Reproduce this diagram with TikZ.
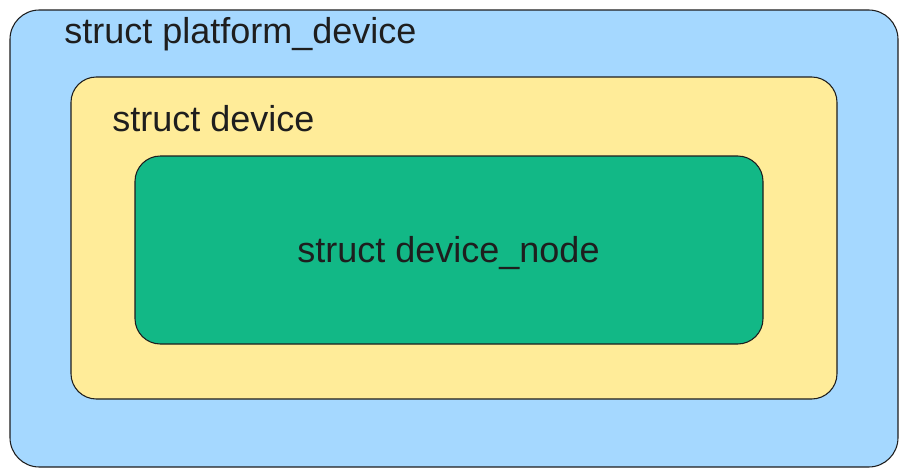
\documentclass[tikz,border=0pt]{standalone}
\usepackage{fontspec}
\setmainfont{Liberation Sans}
\definecolor{boxblue}{HTML}{A5D8FF}
\definecolor{boxyellow}{HTML}{FFEC99}
\definecolor{boxgreen}{HTML}{12B886}
\definecolor{ink}{HTML}{1E1E1E}
\begin{document}
\begin{tikzpicture}[x=0.75pt,y=-0.75pt]

    \tikzset{
      StructBox/.style = { rectangle, draw = ink, line width = 0.8pt,
			  inner sep = 0pt },
      StructLabel/.style = { font = \fontsize{27}{32}\selectfont,
			  text = ink, inner sep = 0pt } }
    \useasboundingbox (0,0) rectangle (907,475);

    % outer struct
    \node[StructBox, fill = boxblue, rounded corners = 22pt,
      minimum width = 666pt, minimum height = 342.75pt] (pdev) at (454,238.5) {};
    \node[StructLabel, anchor = base west] (pdevlabel) at (64,43) {struct platform\_device};

    % middle struct
    \node[StructBox, fill = boxyellow, rounded corners = 19pt,
      minimum width = 574.5pt, minimum height = 241.5pt] (dev) at (454,238) {};
    \node[StructLabel, anchor = base west] (devlabel) at (112,131) {struct device};

    % inner struct
    \node[StructBox, fill = boxgreen, rounded corners = 19pt,
      minimum width = 471pt, minimum height = 141pt] (dnode) at (449,250) {};
    \node[StructLabel, anchor = base] (dnodelabel) at (448.5,262) {struct device\_node};

\end{tikzpicture}
\end{document}
